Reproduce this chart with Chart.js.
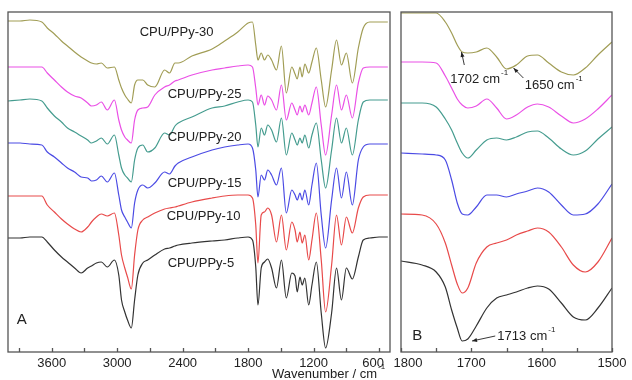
<!DOCTYPE html>
<html>
<head>
<meta charset="utf-8">
<script src="https://cdn.jsdelivr.net/npm/chart.js@4.4.0/dist/chart.umd.min.js"></script>
<style>
  html, body { margin: 0; padding: 0; background: #fff; }
  #wrap { position: relative; width: 632px; height: 380px; overflow: hidden; }
  canvas { position: absolute; top: 0; }
  #chartA { left: 0; }
  #chartB { left: 392px; }
</style>
</head>
<body>
<div id="wrap">
  <canvas id="chartA" width="392" height="380"></canvas>
  <canvas id="chartB" width="240" height="380"></canvas>
</div>
<script>
// ── FTIR spectra, offset transmittance (a.u.) ──

// Panel A: full range
const wnA = [4000, 3890, 3800, 3690, 3640, 3575, 3510, 3455, 3390, 3330,
             3270, 3235, 3190, 3145, 3090, 3025, 2985, 2960, 2930, 2905,
             2870, 2840, 2810, 2765, 2720, 2655, 2565, 2520, 2470, 2440,
             2315, 2130, 2015, 1895, 1800, 1760, 1730, 1710, 1680, 1650,
             1620, 1585, 1540, 1495, 1450, 1400, 1370, 1350, 1325, 1305,
             1280, 1245, 1215, 1175, 1130, 1090, 1035, 990, 945, 900,
             845, 790, 745, 685, 600, 520];

const ppy5A  = [114,114,115,115,110,102,95,90,84,79, 84,86,89,90,85, 92,77,52,40,32,
                24,52,77,89,92, 97,103,104,106,107, 109,111,112,114,115, 112,85,47,84,90,
                93,84,64,92,54, 79,76,60,75,67, 74,47,67,90,39, 4,39,84,52,84,
                73,95,112,114,115, 115];
const ppy10A = [156,156,156,156,147,140,133,128,123,120, 125,130,135,138,136, 139,117,97,84,75,
                63,97,122,132,135, 139,143,144,145,146, 150,154,156,157,157, 154,127,89,137,140,
                144,137,110,137,102, 130,122,110,120,109, 117,92,112,139,92, 40,87,137,107,135,
                119,144,155,157,157, 157];
const ppy15A = [209,209,208,207,200,195,189,184,180,175, 174,171,172,176,170, 179,157,142,135,130,
                124,149,162,167,164, 169,180,178,186,189, 195,202,205,207,208, 204,182,155,177,172,
                182,177,167,184,139, 162,157,152,159,152, 162,147,167,189,137, 104,152,184,154,180,
                147,192,205,208,208, 208];
const ppy20A = [251,252,253,251,244,236,230,224,220,216, 212,209,211,214,208, 217,197,184,177,174,
                170,192,204,207,200, 204,219,217,226,229, 235,244,246,250,252, 250,227,205,224,217,
                227,222,210,234,197, 219,212,207,214,209, 217,204,217,229,192, 164,202,234,209,224,
                197,232,250,252,252, 252];
const ppy25A = [285,285,285,285,279,272,265,260,256,254, 249,246,247,250,242, 252,232,222,215,212,
                209,232,242,244,245, 257,265,267,271,272, 277,282,284,286,287, 285,264,247,257,247,
                256,252,242,267,232, 249,242,237,246,240, 247,237,249,265,227, 197,237,267,242,257,
                234,269,284,285,285, 285];
const ppy30A = [331,331,332,330,324,318,311,306,300,295, 291,289,288,289,284, 285,272,264,257,253,
                249,267,272,272,267, 265,282,279,289,289, 296,303,311,320,329, 330,307,292,299,292,
                297,292,282,306,259, 285,278,273,285,275, 288,279,290,304,272, 245,282,312,287,299,
                269,304,324,330,330, 330];

// Panel B: carbonyl region
const wnB = [1800, 1770, 1750, 1737, 1728, 1720, 1713, 1705, 1693, 1678, 1664,
             1650, 1636, 1620, 1606, 1590, 1572, 1555, 1538, 1520, 1500];

const ppy5B  = [91,87,80,65,42,24,11,13,26,44,54,57,60,64,66,63,49,35,32,44,64];
const ppy10B = [138,137,128,109,87,68,59,64,89,105,109,112,117,121,124,120,105,87,80,90,114];
const ppy15B = [199,198,197,192,172,149,138,137,145,157,157,155,158,161,164,160,147,137,138,148,168];
const ppy20B = [249,249,245,233,222,209,199,194,202,212,214,212,215,220,221,214,203,197,201,213,225];
const ppy25B = [290,290,289,276,264,253,247,244,246,253,244,233,237,245,248,245,236,229,233,243,257];
const ppy30B = [339,339,339,330,319,307,300,299,300,304,295,283,287,296,297,289,280,277,284,297,310];

const seriesNames = ['CPU/PPy-5', 'CPU/PPy-10', 'CPU/PPy-15', 'CPU/PPy-20', 'CPU/PPy-25', 'CPU/PPy-30'];
const colors = ['#333333', '#e84a4a', '#4b4be4', '#459c8f', '#ea50e6', '#a19d55'];

const ticksA = [3900, 3600, 3300, 3000, 2700, 2400, 2100, 1800, 1500, 1200, 900, 600];
const labelsA = [3600, 3000, 2400, 1800, 1200, 600];
const ticksB = [1800, 1750, 1700, 1650, 1600, 1550, 1500];
const labelsB = [1800, 1700, 1600, 1500];

const FONT = '"Liberation Sans", Arial, sans-serif';

function makeSets(wn, list) {
  return list.map((ys, i) => ({
    label: seriesNames[i],
    data: wn.map((w, j) => ({ x: w, y: ys[j] })),
    borderColor: colors[i],
    borderWidth: 1.2,
    pointRadius: 0,
    fill: false,
    cubicInterpolationMode: 'monotone'
  }));
}

// frame, inward ticks, labels and notes
function makeFrame(o) {
  return {
    id: 'frame',
    afterDraw(chart) {
      const { ctx, chartArea: a, scales: { x, y } } = chart;
      const P = (w, v) => [x.getPixelForValue(w), y.getPixelForValue(v)];
      ctx.save();
      ctx.strokeStyle = '#555';
      ctx.lineWidth = 1.3;
      ctx.strokeRect(a.left, a.top, a.right - a.left, a.bottom - a.top);
      ctx.beginPath();
      o.ticks.forEach(t => {
        const px = Math.round(x.getPixelForValue(t)) + 0.5;
        ctx.moveTo(px, a.bottom); ctx.lineTo(px, a.bottom - 4);
      });
      ctx.stroke();

      ctx.fillStyle = '#222';
      ctx.font = '13px ' + FONT;
      ctx.textAlign = 'center';
      ctx.textBaseline = 'middle';
      o.labels.forEach(t => ctx.fillText(String(t), x.getPixelForValue(t) + (o.shift[t] || 0), a.bottom + 11));

      ctx.textAlign = 'left';
      o.texts.forEach(t => {
        const [px, py] = P(t.w, t.v);
        ctx.font = (t.size || 13) + 'px ' + FONT;
        ctx.fillText(t.t, px, py);
        if (t.sup) {
          const tw = ctx.measureText(t.t).width;
          ctx.font = '8px ' + FONT;
          ctx.fillText(t.sup, px + tw + 1, py - 6);
        }
      });

      ctx.strokeStyle = '#222';
      ctx.lineWidth = 0.9;
      o.arrows.forEach(ar => {
        const [x0, y0] = P(ar.from[0], ar.from[1]);
        const [x1, y1] = P(ar.to[0], ar.to[1]);
        ctx.beginPath(); ctx.moveTo(x0, y0); ctx.lineTo(x1, y1); ctx.stroke();
        const ang = Math.atan2(y1 - y0, x1 - x0);
        ctx.beginPath();
        ctx.moveTo(x1, y1);
        ctx.lineTo(x1 - 5 * Math.cos(ang) + 2 * Math.sin(ang), y1 - 5 * Math.sin(ang) - 2 * Math.cos(ang));
        ctx.lineTo(x1 - 5 * Math.cos(ang) - 2 * Math.sin(ang), y1 - 5 * Math.sin(ang) + 2 * Math.cos(ang));
        ctx.closePath(); ctx.fill();
      });

      if (o.title) {
        ctx.font = '13px ' + FONT;
        ctx.fillText(o.title.t, o.title.x, a.bottom + 22);
        const tw = ctx.measureText(o.title.t).width;
        ctx.font = '8px ' + FONT;
        ctx.fillText(o.title.sup, o.title.x + tw + 1, a.bottom + 15);
      }
      ctx.restore();
    }
  };
}

function baseOptions(min, max, pad) {
  return {
    responsive: false,
    animation: false,
    devicePixelRatio: 1,
    layout: { padding: pad },
    plugins: { legend: { display: false }, tooltip: { enabled: false } },
    scales: {
      x: { type: 'linear', reverse: true, min: min, max: max, display: false },
      y: { min: 0, max: 340, display: false }
    }
  };
}

// ── Panel A ──
new Chart(document.getElementById('chartA').getContext('2d'), {
  type: 'line',
  data: { datasets: makeSets(wnA, [ppy5A, ppy10A, ppy15A, ppy20A, ppy25A, ppy30A]) },
  options: baseOptions(500, 4000, { left: 8, right: 2, top: 12, bottom: 28 }),
  plugins: [makeFrame({
    ticks: ticksA, labels: labelsA, shift: { 600: -6 },
    texts: [
      { t: 'CPU/PPy-30', w: 2793, v: 320 },
      { t: 'CPU/PPy-25', w: 2537, v: 258 },
      { t: 'CPU/PPy-20', w: 2537, v: 215 },
      { t: 'CPU/PPy-15', w: 2537, v: 169 },
      { t: 'CPU/PPy-10', w: 2546, v: 136 },
      { t: 'CPU/PPy-5',  w: 2537, v: 89 },
      { t: 'A', w: 3920, v: 32, size: 15 }
    ],
    arrows: [],
    title: { t: 'Wavenumber / cm', sup: '-1', x: 272 }
  })]
});

// ── Panel B ──
new Chart(document.getElementById('chartB').getContext('2d'), {
  type: 'line',
  data: { datasets: makeSets(wnB, [ppy5B, ppy10B, ppy15B, ppy20B, ppy25B, ppy30B]) },
  options: baseOptions(1500, 1800, { left: 9, right: 20, top: 12, bottom: 28 }),
  plugins: [makeFrame({
    ticks: ticksB, labels: labelsB, shift: { 1800: 7 },
    texts: [
      { t: '1702 cm', sup: '-1', w: 1730, v: 273 },
      { t: '1650 cm', sup: '-1', w: 1624, v: 267 },
      { t: '1713 cm', sup: '-1', w: 1663, v: 16 },
      { t: 'B', w: 1784, v: 16, size: 15 }
    ],
    arrows: [
      { from: [1710, 287], to: [1714, 300] },
      { from: [1626, 274], to: [1640, 284] },
      { from: [1666, 16], to: [1699, 11] }
    ]
  })]
});
</script>
</body>
</html>
